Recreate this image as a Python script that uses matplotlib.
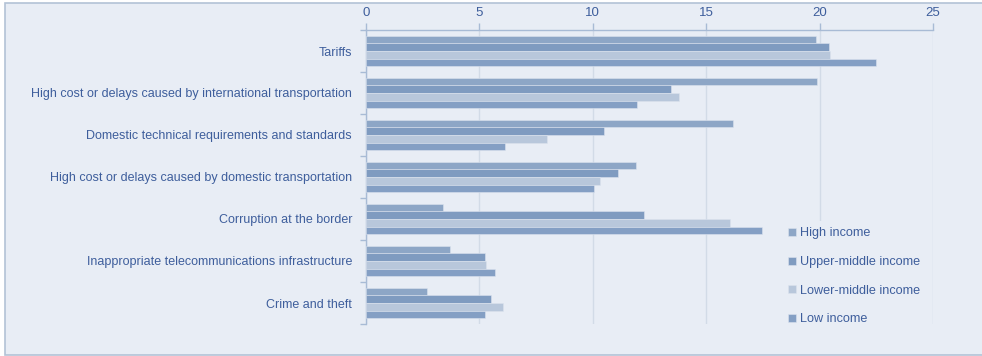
import matplotlib
matplotlib.use("Agg")
import matplotlib.pyplot as plt
import numpy as np
from matplotlib.patches import Rectangle

plt.rcParams['font.family'] = ['Liberation Sans', 'DejaVu Sans']

categories = [
    "Tariffs",
    "High cost or delays caused by international transportation",
    "Domestic technical requirements and standards",
    "High cost or delays caused by domestic transportation",
    "Corruption at the border",
    "Inappropriate telecommunications infrastructure",
    "Crime and theft",
]
series_names = ["High income", "Upper-middle income", "Lower-middle income", "Low income"]
high_income = [19.85, 19.9, 16.2, 11.9, 3.4, 3.7, 2.7]
upper_middle_income = [20.4, 13.45, 10.5, 11.1, 12.25, 5.25, 5.5]
lower_middle_income = [20.45, 13.8, 8.0, 10.3, 16.05, 5.3, 6.05]
low_income = [22.5, 11.95, 6.15, 10.05, 17.45, 5.7, 5.25]
x_ticks = [0, 5, 10, 15, 20, 25]

values = [high_income, upper_middle_income, lower_middle_income, low_income]
colors = ["#8DA6C6", "#7F9BC0", "#B8C7DB", "#849FC4"]
bg = "#E8EDF5"
text_c = "#3E5E9C"
axis_c = "#A8BBD5"
grid_c = "#D2DBE7"

fig = plt.figure(figsize=(9.82, 3.56), dpi=100)
fig.patch.set_facecolor("white")
frame = Rectangle((5 / 982, 1.5 / 356), 1.0, 352 / 356,
                  transform=fig.transFigure, facecolor=bg,
                  edgecolor="#B3C2D6", linewidth=1.2, zorder=-10)
fig.patches.append(frame)

ax = fig.add_axes([366 / 982, 1 - 324 / 356, 567 / 982, 294 / 356])
ax.set_facecolor("none")
ax.set_zorder(1)

y = np.arange(len(categories))
h = 0.181
for i, (name, vals, c) in enumerate(zip(series_names, values, colors)):
    ax.barh(y + (i - 1.5) * h, vals, height=h, color=c, label=name,
            edgecolor="#DCE3EE", linewidth=0.4, zorder=3)

ax.set_xlim(0, 25)
ax.set_ylim(len(categories) - 0.5, -0.5)
ax.set_xticks(x_ticks)
ax.set_xticklabels([str(t) for t in x_ticks])
ax.xaxis.tick_top()
ax.tick_params(axis="x", colors=axis_c, labelcolor=text_c, labelsize=9.5,
               length=5, width=1, pad=3)
ax.set_yticks(y)
ax.set_yticklabels(categories)
ax.set_yticks(np.arange(len(categories) + 1) - 0.5, minor=True)
ax.tick_params(axis="y", which="major", length=0, labelcolor=text_c,
               labelsize=9.0, pad=10)
ax.tick_params(axis="y", which="minor", length=4, color=axis_c, width=1)
ax.grid(axis="x", color=grid_c, linewidth=1, zorder=0)
ax.set_axisbelow(True)
for s in ["right", "bottom"]:
    ax.spines[s].set_visible(False)
for s in ["top", "left"]:
    ax.spines[s].set_color(axis_c)
    ax.spines[s].set_linewidth(1)

leg = ax.legend(loc="upper left", bbox_to_anchor=(782 / 982, 1 - 221 / 356),
                bbox_transform=fig.transFigure, frameon=True, fontsize=9.1,
                handlelength=0.6, handleheight=0.6, handletextpad=0.3,
                labelspacing=1.32, borderpad=0.5, borderaxespad=0)
leg.get_frame().set_facecolor(bg)
leg.get_frame().set_edgecolor("none")
leg.get_frame().set_alpha(1)
leg.set_zorder(5)
for t in leg.get_texts():
    t.set_color(text_c)

fig.savefig("out.png", dpi=100)
